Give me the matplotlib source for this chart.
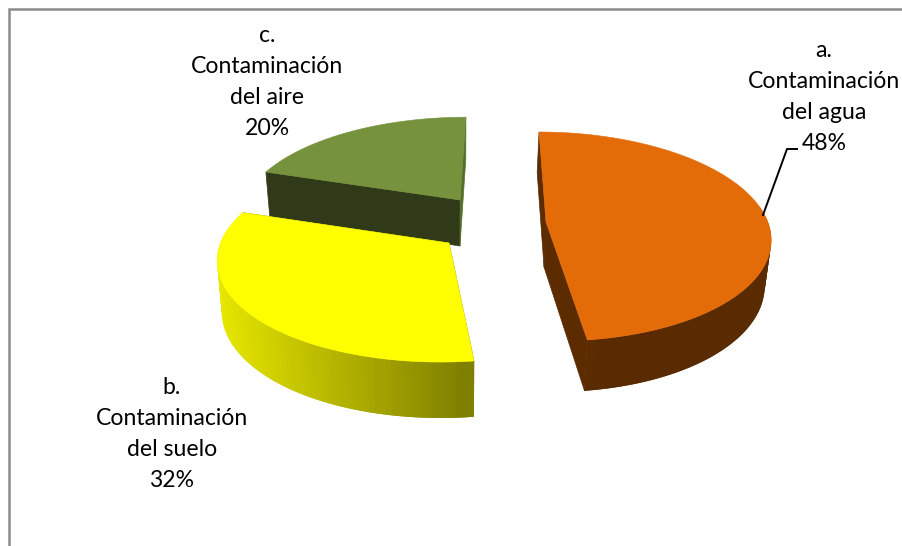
import numpy as np
import matplotlib
matplotlib.use("Agg")
import matplotlib.pyplot as plt
from matplotlib.collections import PolyCollection
from matplotlib.colors import to_rgb

# datos del grafico
categorias = ["a.\nContaminación\ndel agua", "b.\nContaminación\ndel suelo", "c.\nContaminación\ndel aire"]
valores = [48, 32, 20]

# estilo de cada sector (mismo orden que categorias)
color_top = ["#e36c09", "#ffff00", "#76923c"]
color_arco = [("#753708", "#5a2b00"), ("#e8e800", "#7f7f00"), ("#303a18", "#303a18")]
color_corte = ["#5c2c00", "#7f7f00", "#303a18"]
color_corte2 = ["#5c2c00", "#7f7f00", "#55702c"]
centro = [(546, 222), (449, 243), (460, 200)]
escala_x = [0.99, 1.02, 0.96]
escala_y = [1.0, 1.0, 0.92]
sesgo = [-8, 7, 7]
centro_base = [(544, 267), (449, 293), (460, 246)]
pos_label = [(824, 97), (172, 434), (267, 82)]

RX, RY, K = 224, 102.5, 0.139


def proyecta(theta, r, c, ex, ey, s, fx=1.0, fy=1.0):
	# disco -> pixeles, con algo de perspectiva
	X = r * np.sin(theta)
	Y = r * np.cos(theta)
	w = 1 + K * Y
	x = c[0] + ex * fx * (RX * X + s * Y) / w
	y = c[1] - ey * fy * RY * Y / w
	return np.column_stack([x, y])


def cuadro(a, b):
	return [a[0], a[-1], b[-1], b[0]]


fig = plt.figure(figsize=(9.03, 5.46), dpi=100)
ax = fig.add_axes([0, 0, 1, 1])
ax.set_xlim(0, 903)
ax.set_ylim(546, 0)
ax.axis("off")

# marco (solo arriba e izquierda se ven)
ax.plot([9, 9, 903], [546, 9, 9], color="#8c8c8c", lw=1.8, solid_joinstyle="miter", zorder=1)

limites = np.cumsum([0] + valores) / sum(valores) * 2 * np.pi
orden = [2, 1, 0]  # atras primero
z = 2
for i in orden:
	t = np.linspace(limites[i], limites[i + 1], 90)
	c, cb = centro[i], centro_base[i]
	arr = proyecta(t, 1, c, escala_x[i], escala_y[i], sesgo[i])
	aba = proyecta(t, 1, cb, escala_x[i], escala_y[i], sesgo[i], 0.98, 1.05)
	ap = np.array(c, float)
	apb = np.array(cb, float)

	# paredes de los cortes
	muros = [[ap, arr[0], aba[0], apb], [ap, arr[-1], aba[-1], apb]]
	cols = [color_corte[i], color_corte2[i]]
	ax.add_collection(PolyCollection(muros, facecolors=cols, edgecolors=cols, linewidths=0.5, zorder=z))
	z += 1

	# pared curva con degradado
	ini, fin = np.array(to_rgb(color_arco[i][0])), np.array(to_rgb(color_arco[i][1]))
	xs = arr[:, 0]
	frac = (xs - xs.min()) / (xs.max() - xs.min())
	if i == 0:
		frac = np.clip((xs - xs.min()) / 60, 0, 1)
	polys, fc = [], []
	for j in range(len(t) - 1):
		if arr[j + 1, 1] + arr[j, 1] < 2 * c[1] - 30:
			continue
		# cada tira pisa un poco la siguiente para que no se noten las juntas
		polys.append((cuadro(arr[j:j + 3], aba[j:j + 3]), ini + (fin - ini) * frac[j], xs[j]))
	polys.sort(key=lambda p: p[2] if i == 1 else -p[2])
	if polys:
		ax.add_collection(PolyCollection([p[0] for p in polys], facecolors=[p[1] for p in polys],
			edgecolors="none", zorder=z))
	z += 1

	# cara superior
	ax.fill(np.r_[ap[0], arr[:, 0]], np.r_[ap[1], arr[:, 1]], color=color_top[i], lw=0.4, zorder=z)
	z += 1

# guia de la etiqueta a
ax.plot([763, 787, 797], [215, 149, 149], color="black", lw=1.4, zorder=z)

for i in range(len(valores)):
	txt = "%s\n%d%%" % (categorias[i], valores[i])
	ax.text(pos_label[i][0], pos_label[i][1], txt, ha="center", va="center", fontsize=16.6,
		family="Lato", color="black", linespacing=1.58, zorder=z + 1)

fig.savefig("out.png", dpi=100, facecolor="white")
